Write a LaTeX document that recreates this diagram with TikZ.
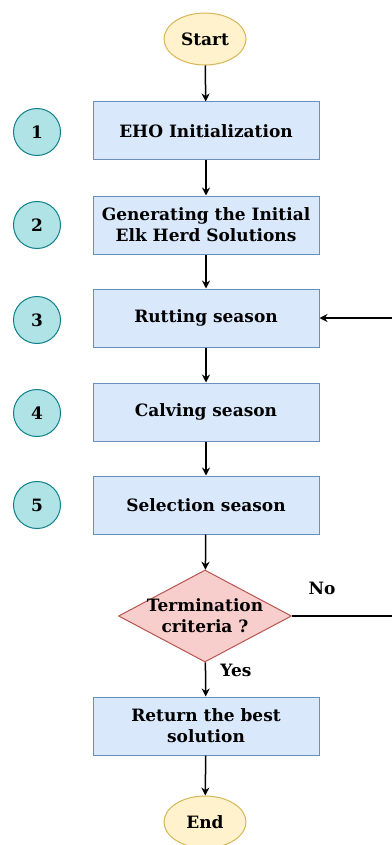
\documentclass[tikz,border=0pt]{standalone}
\usepackage{fontspec}
\setmainfont{DejaVu Serif}
\usepackage{xcolor}
\usepackage{tikz}
\usetikzlibrary{shapes.geometric,arrows.meta}

\definecolor{procfill}{HTML}{DAE8FC}
\definecolor{procline}{HTML}{6C8EBF}
\definecolor{termfill}{HTML}{FFF2CC}
\definecolor{termline}{HTML}{D6B656}
\definecolor{decfill}{HTML}{F8CECC}
\definecolor{decline}{HTML}{B85450}
\definecolor{numfill}{HTML}{B0E3E6}
\definecolor{numline}{HTML}{0E8088}

\begin{document}
\begin{tikzpicture}[
    x=1pt,
    y=-1pt,
    boxfont/.style={
        font=\bfseries\fontsize{17}{21}\selectfont
    },
    process/.style={
        boxfont,
        draw=procline,
        fill=procfill,
        line width=1pt,
        minimum width=226pt,
        minimum height=58pt,
        align=center
    },
    terminal/.style={
        boxfont,
        ellipse,
        draw=termline,
        fill=termfill,
        line width=1pt,
        minimum width=82pt,
        minimum height=52pt,
        inner sep=0pt
    },
    decision/.style={
        diamond,
        draw=decline,
        fill=decfill,
        line width=1pt,
        minimum width=173pt,
        minimum height=92pt,
        inner sep=0pt
    },
    stepnum/.style={
        boxfont,
        circle,
        draw=numline,
        fill=numfill,
        line width=1pt,
        minimum size=47pt,
        inner sep=0pt
    },
    flow/.style={
        line width=1.5pt,
        -{Stealth[length=8pt,width=8pt]}
    }
]

\useasboundingbox (0,0) rectangle (391,845);

% main column
\node[terminal] (start) at (205,39) {Start};
\node[process]  (init)  at (206,131) {EHO Initialization};
\node[process]  (gen)   at (206,225) {Generating the Initial\\Elk Herd Solutions};
\node[process]  (rut)   at (206,318) {Rutting season};
\node[process]  (calv)  at (206,412) {Calving season};
\node[process]  (sel)   at (206,505) {Selection season};
\node[decision] (term)  at (205,616)
    {};
\node[boxfont,align=center] (termtext) at (205,616) {Termination\\criteria ?};
\node[process]  (ret)   at (206,726) {Return the best\\solution};
\node[terminal] (stop)  at (205,822) {End};

% step numbers
\node[stepnum] (n1) at (37,132) {1};
\node[stepnum] (n2) at (37,225) {2};
\node[stepnum] (n3) at (37,320) {3};
\node[stepnum] (n4) at (37,413) {4};
\node[stepnum] (n5) at (37,505) {5};

% arrows
\draw[flow] (start) -- (init);
\draw[flow] (init) -- (gen);
\draw[flow] (gen) -- (rut);
\draw[flow] (rut) -- (calv);
\draw[flow] (calv) -- (sel);
\draw[flow] (sel) -- (term);
\draw[flow] (term) -- (ret);
\draw[flow] (ret) -- (stop);

\node[boxfont] (yes) at (236,670) {Yes};
\node[boxfont] (no)  at (322,588) {No};

% loop back (vertical part lies past the right edge)
\coordinate (back) at (396,616);
\draw[flow] (term.east) -- (back) |- (rut.east);

\end{tikzpicture}
\end{document}
